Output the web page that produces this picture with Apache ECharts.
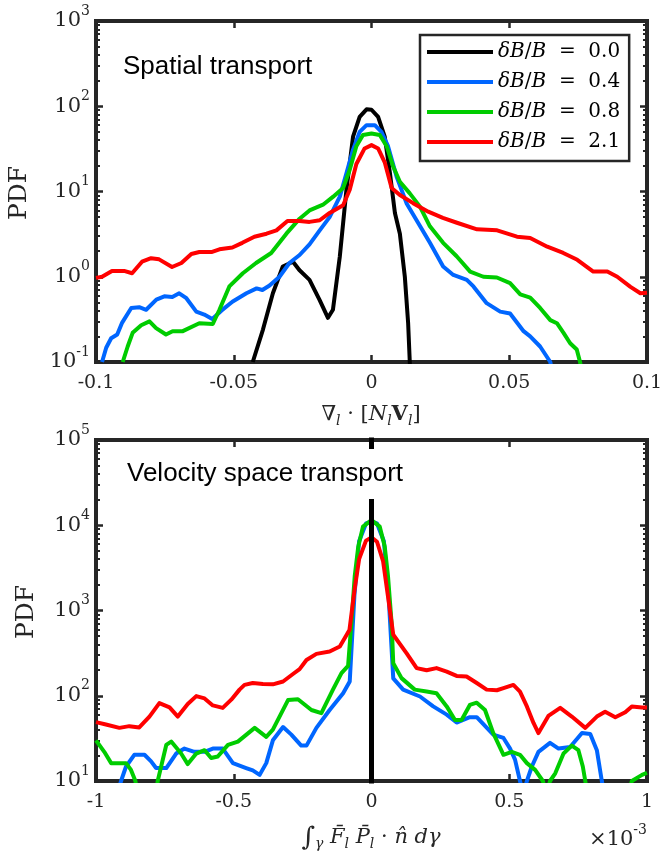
<!DOCTYPE html>
<html>
<head>
<meta charset="utf-8">
<script src="https://cdn.jsdelivr.net/npm/echarts@6/dist/echarts.min.js"></script>
<style>html,body{margin:0;padding:0;background:#fff}#chart{width:661px;height:853px}</style>
</head>
<body>
<div id="chart"></div>
<script>
// ---------------- DATA ----------------
const seriesNames = ['δB/B = 0.0', 'δB/B = 0.4', 'δB/B = 0.8', 'δB/B = 2.1'];

// Spatial transport PDF: [x, PDF]
const spatial00 = [[-0.0431,0.1],[-0.0394,0.24],[-0.0358,0.64],[-0.0322,1.32],[-0.0285,1.5],[-0.0262,1.2],[-0.0225,0.92],[-0.0189,0.54],[-0.0158,0.33],[-0.014,0.41],[-0.0115,1.73],[-0.0091,10.5],[-0.0067,44],[-0.0043,75],[-0.0018,92],[0.0,91],[0.0024,75],[0.0048,44],[0.0067,16.4],[0.0085,5.6],[0.0103,3.2],[0.0121,1.0],[0.0133,0.285],[0.0139,0.1],[0.0142,0.05]];
const spatial04 = [[-0.0978,0.1],[-0.0963,0.147],[-0.0945,0.19],[-0.0923,0.21],[-0.0905,0.29],[-0.0872,0.43],[-0.0843,0.44],[-0.0818,0.41],[-0.0781,0.54],[-0.0752,0.59],[-0.0723,0.58],[-0.0698,0.64],[-0.0672,0.56],[-0.0636,0.39],[-0.0607,0.36],[-0.0578,0.32],[-0.0545,0.4],[-0.0505,0.51],[-0.0454,0.64],[-0.0417,0.73],[-0.0396,0.7],[-0.037,0.79],[-0.0334,1.0],[-0.0298,1.45],[-0.0261,1.8],[-0.0225,2.4],[-0.0188,3.5],[-0.0152,5.0],[-0.0115,8.7],[-0.0091,16.4],[-0.0067,31],[-0.0043,50],[-0.0018,60],[0.0012,60],[0.0036,50],[0.006,34],[0.0091,15],[0.0127,7.3],[0.0169,4.3],[0.0212,2.5],[0.026,1.32],[0.0297,1.05],[0.0346,0.92],[0.037,0.77],[0.0418,0.49],[0.0467,0.39],[0.0503,0.37],[0.0552,0.23],[0.0576,0.2],[0.0612,0.152],[0.0649,0.1],[0.0655,0.08]];
const spatial08 = [[-0.0903,0.1],[-0.0885,0.152],[-0.0867,0.22],[-0.0836,0.27],[-0.0806,0.3],[-0.0782,0.25],[-0.0746,0.21],[-0.0722,0.23],[-0.0685,0.23],[-0.0625,0.285],[-0.0576,0.28],[-0.0552,0.41],[-0.0516,0.77],[-0.0467,1.1],[-0.0419,1.45],[-0.0364,1.9],[-0.0309,3.2],[-0.0261,4.8],[-0.0225,6.0],[-0.0176,7.0],[-0.0139,8.7],[-0.0103,11],[-0.0079,18],[-0.0055,34],[-0.0031,46],[0.0,48],[0.003,46],[0.0055,34],[0.0079,19.5],[0.0103,13],[0.0139,9.5],[0.0176,6.65],[0.0212,3.9],[0.026,2.5],[0.0309,1.74],[0.0358,1.15],[0.0406,1.0],[0.0455,0.98],[0.0503,0.84],[0.054,0.62],[0.0576,0.57],[0.0612,0.43],[0.0649,0.31],[0.0673,0.285],[0.0697,0.22],[0.0721,0.166],[0.0745,0.14],[0.0757,0.1],[0.0762,0.08]];
const spatial21 = [[-0.1,0.97],[-0.0978,1.0],[-0.0942,1.17],[-0.0898,1.17],[-0.0869,1.1],[-0.0833,1.5],[-0.08,1.65],[-0.0771,1.6],[-0.0724,1.3],[-0.069,1.45],[-0.0654,1.85],[-0.0625,1.95],[-0.0581,1.95],[-0.0552,2.1],[-0.0505,2.2],[-0.0469,2.5],[-0.0425,2.95],[-0.0381,3.2],[-0.0345,3.5],[-0.0305,4.5],[-0.0261,4.5],[-0.0225,4.4],[-0.0188,4.6],[-0.0152,5.6],[-0.0103,6.9],[-0.0079,10.5],[-0.0055,21],[-0.0025,32],[0.0,35],[0.0024,32],[0.0048,22],[0.0073,11],[0.0103,9.1],[0.0151,7.3],[0.0206,5.8],[0.0259,4.9],[0.031,4.3],[0.0383,3.6],[0.0456,3.5],[0.0528,2.95],[0.0576,2.85],[0.0638,2.25],[0.0696,1.9],[0.0747,1.58],[0.0805,1.15],[0.0856,1.15],[0.0892,1.0],[0.094,0.76],[0.0976,0.64],[0.1,0.65]];

// Velocity space transport PDF: [x (×1e-3), PDF]
const velocity00 = [[0,1],[0,1e7]];
const velocity04 = [[-0.93,6],[-0.909,10],[-0.891,14.8],[-0.861,20.3],[-0.824,20.3],[-0.8,17],[-0.782,14.2],[-0.745,14.2],[-0.709,21],[-0.679,24],[-0.643,22],[-0.606,22],[-0.576,24],[-0.54,24],[-0.503,16.2],[-0.455,14.2],[-0.431,13.3],[-0.406,11.8],[-0.382,16.2],[-0.358,30],[-0.321,43],[-0.291,35],[-0.255,26],[-0.236,26],[-0.2,42],[-0.152,68],[-0.103,107],[-0.079,147],[-0.062,1500],[-0.045,6500],[-0.02,10500],[0,11000],[0.02,10500],[0.045,6500],[0.062,1500],[0.079,160],[0.115,118],[0.176,98],[0.224,75],[0.273,60],[0.309,48.5],[0.357,56],[0.382,56],[0.442,35],[0.479,32],[0.503,24],[0.521,17.8],[0.539,10],[0.551,7],[0.564,10],[0.582,14.8],[0.606,22],[0.648,28],[0.679,24],[0.721,25],[0.764,36.5],[0.794,35.5],[0.818,23],[0.836,10],[0.85,6]];
const velocity08 = [[-1,30],[-0.97,22],[-0.945,16.2],[-0.891,16.2],[-0.873,13.5],[-0.857,10],[-0.845,6],[-0.785,6],[-0.776,10],[-0.745,26.5],[-0.727,29],[-0.691,21],[-0.667,15.8],[-0.636,21],[-0.606,23],[-0.582,18.6],[-0.558,19.4],[-0.521,26.5],[-0.485,29],[-0.424,42],[-0.382,33],[-0.358,40],[-0.303,89],[-0.267,91],[-0.218,68],[-0.182,62.5],[-0.14,118],[-0.109,184],[-0.085,224],[-0.073,710],[-0.061,2500],[-0.048,5620],[-0.031,9640],[0,11500],[0.03,9640],[0.048,5620],[0.06,2500],[0.073,710],[0.079,240],[0.109,161],[0.157,118],[0.2,112],[0.236,107],[0.273,75],[0.303,52],[0.327,52],[0.357,78],[0.382,83],[0.412,68],[0.442,36.5],[0.479,20.3],[0.509,22],[0.539,20.3],[0.564,16.2],[0.594,13.5],[0.622,10],[0.635,7],[0.648,10],[0.667,12.3],[0.697,21],[0.727,26],[0.751,23],[0.767,14.8],[0.776,10],[0.79,5],[0.92,5],[0.945,10],[0.982,11.8],[1.0,12.5]];
const velocity21 = [[-1,49],[-0.964,46],[-0.915,42],[-0.879,44],[-0.843,42.5],[-0.806,57],[-0.77,82],[-0.733,73],[-0.703,57],[-0.667,80],[-0.636,99],[-0.606,93],[-0.576,77],[-0.54,72],[-0.509,90],[-0.479,118],[-0.461,134],[-0.431,141],[-0.394,137],[-0.358,136],[-0.321,147],[-0.285,180],[-0.261,205],[-0.236,263],[-0.2,310],[-0.152,330],[-0.115,378],[-0.08,590],[-0.062,1700],[-0.045,4000],[-0.02,6600],[0,7200],[0.02,6400],[0.042,3800],[0.06,1455],[0.079,520],[0.127,316],[0.164,211],[0.2,199],[0.236,211],[0.273,192],[0.309,171],[0.345,168],[0.382,141],[0.418,118],[0.455,116],[0.479,123],[0.515,134],[0.539,112],[0.564,75],[0.588,48],[0.606,36.5],[0.642,58],[0.685,72],[0.727,57],[0.776,42],[0.818,57],[0.848,65],[0.885,56],[0.921,64],[0.945,75],[0.982,73],[1.0,73]];

// axis ranges / ticks
const topXRange = [-0.1, 0.1, 0.05];
const topYRange = [0.1, 1000];
const botXRange = [-1, 1, 0.5];
const botYRange = [10, 100000];

// ---------------- STYLE ----------------
const colors = ['#000000', '#0066ff', '#00cc00', '#ff0000'];
const axisCol = '#262626';
const serif = 'DejaVu Serif';

function minorLog(lo, hi) {
  const a = [];
  for (let n = lo; n < hi; n++) for (let k = 2; k <= 9; k++) a.push(n + Math.log10(k));
  return a;
}

const supRich = {
  b: {fontFamily: serif, fontSize: 21, lineHeight: 34, color: axisCol},
  s: {fontFamily: serif, fontSize: 14, lineHeight: 15, verticalAlign: 'top', color: axisCol}
};

function xAxesFor(gridIndex, r) {
  return [
    {type: 'value', gridIndex, position: 'bottom', min: r[0], max: r[1], interval: r[2],
     axisLine: {show: false, onZero: false}, splitLine: {show: false},
     axisTick: {inside: true, length: 7, lineStyle: {color: axisCol, width: 2.5}},
     axisLabel: {margin: 12, fontFamily: serif, fontSize: 19, color: axisCol}},
    {type: 'value', gridIndex, position: 'top', min: r[0], max: r[1], interval: r[2],
     axisLine: {show: false, onZero: false}, splitLine: {show: false},
     axisTick: {inside: true, length: 7, lineStyle: {color: axisCol, width: 2.5}},
     axisLabel: {show: false}}
  ];
}
function yAxesFor(gridIndex, r) {
  const lo = Math.round(Math.log10(r[0])), hi = Math.round(Math.log10(r[1]));
  const minor = minorLog(lo, hi);
  const base = {gridIndex, axisLine: {show: false, onZero: false}, splitLine: {show: false}};
  return [
    Object.assign({}, base, {type: 'log', logBase: 10, position: 'left', min: r[0], max: r[1],
      axisTick: {inside: true, length: 7, lineStyle: {color: axisCol, width: 2.5}},
      axisLabel: {margin: 6, formatter: v => '{b|10}{s|' + Math.round(Math.log10(v)) + '}', rich: supRich}}),
    Object.assign({}, base, {type: 'log', logBase: 10, position: 'right', min: r[0], max: r[1],
      axisTick: {inside: true, length: 7, lineStyle: {color: axisCol, width: 2.5}},
      axisLabel: {show: false}}),
    Object.assign({}, base, {type: 'value', position: 'left', min: lo, max: hi,
      axisTick: {inside: true, length: 4, customValues: minor, lineStyle: {color: axisCol, width: 2}},
      axisLabel: {show: false}}),
    Object.assign({}, base, {type: 'value', position: 'right', min: lo, max: hi,
      axisTick: {inside: true, length: 4, customValues: minor, lineStyle: {color: axisCol, width: 2}},
      axisLabel: {show: false}})
  ];
}

function lineSeries(name, data, color, xi, yi, z, width) {
  return {type: 'line', name, data, xAxisIndex: xi, yAxisIndex: yi, color,
    showSymbol: false, symbol: 'none', clip: true, silent: true, z: z,
    lineStyle: {color, width: width || 4, join: 'round', cap: 'butt'}};
}

const topData = [spatial00, spatial04, spatial08, spatial21];
const botData = [velocity04, velocity08, velocity21];

const series = [];
topData.forEach((d, i) => series.push(lineSeries(seriesNames[i], d, colors[i], 0, 0, 2 + i * 0.01)));
botData.forEach((d, i) => series.push(lineSeries(seriesNames[i + 1], d, colors[i + 1], 2, 4, 2 + i * 0.01)));
series.push(lineSeries(seriesNames[0], velocity00, colors[0], 2, 4, 3, 5));

const legendRich = {
  i: {fontFamily: serif, fontStyle: 'italic', fontSize: 20, color: '#000'},
  n: {fontFamily: serif, fontSize: 20, color: '#000'}
};

const mathRich = {
  m: {fontFamily: serif, fontSize: 21, lineHeight: 26, fill: '#262626'},
  mi: {fontFamily: serif, fontStyle: 'italic', fontSize: 21, lineHeight: 26, fill: '#262626'},
  mb: {fontFamily: serif, fontWeight: 'bold', fontSize: 21, lineHeight: 26, fill: '#262626'},
  big: {fontFamily: serif, fontSize: 26, lineHeight: 26, fill: '#262626'},
  sub: {fontFamily: serif, fontStyle: 'italic', fontSize: 14, lineHeight: 14, verticalAlign: 'bottom', fill: '#262626'}
};

const chart = echarts.init(document.getElementById('chart'), null, {renderer: 'canvas'});
chart.setOption({
  animation: false,
  backgroundColor: '#ffffff',
  grid: [
    {left: 96, top: 21, width: 551, height: 341, show: true, borderColor: axisCol, borderWidth: 4, backgroundColor: 'transparent', outerBoundsMode: 'none', containLabel: false},
    {left: 96, top: 440, width: 551, height: 341, show: true, borderColor: axisCol, borderWidth: 4, backgroundColor: 'transparent', outerBoundsMode: 'none', containLabel: false}
  ],
  xAxis: [...xAxesFor(0, topXRange), ...xAxesFor(1, botXRange)],
  yAxis: [...yAxesFor(0, topYRange), ...yAxesFor(1, botYRange)],
  legend: {
    data: seriesNames, orient: 'vertical', left: 420, top: 35,
    itemWidth: 66, itemHeight: 4, icon: 'rect', itemGap: 8,
    padding: [6, 9, 8, 7], borderColor: axisCol, borderWidth: 2.5, backgroundColor: '#ffffff',
    selectedMode: false,
    textStyle: {fontFamily: serif, fontSize: 20, lineHeight: 22, color: '#000', rich: legendRich},
    formatter: name => '{i|δB}{n|/}{i|B}{n|  =  ' + name.split(' = ')[1] + '}'
  },
  graphic: [
    {type: 'text', x: 123, y: 67, z: 100, style: {text: 'Spatial transport', font: '26px "Liberation Sans"', fill: '#000', verticalAlign: 'middle'}},
    {type: 'text', x: 123, y: 474, z: 100, style: {text: 'Velocity space transport', font: '26px "Liberation Sans"', fill: '#000', verticalAlign: 'middle', backgroundColor: '#ffffff', padding: [14, 4, 10, 4]}},
    {type: 'text', x: 19, y: 193, rotation: Math.PI / 2, z: 100, style: {text: 'PDF', font: '25px "DejaVu Serif"', fill: '#262626', align: 'center', verticalAlign: 'middle'}},
    {type: 'text', x: 26, y: 612, rotation: Math.PI / 2, z: 100, style: {text: 'PDF', font: '25px "DejaVu Serif"', fill: '#262626', align: 'center', verticalAlign: 'middle'}},
    {type: 'text', x: 371, y: 415, z: 100, style: {text: '{m|∇}{sub|l}{m| · [}{mi|N}{sub|l}{mb|V}{sub|l}{m|]}', rich: mathRich, align: 'center', verticalAlign: 'middle'}},
    {type: 'text', x: 371, y: 838, z: 100, style: {text: '{big|∫}{sub|γ}{m| }{mi|F\u0304}{sub|l}{m| }{mi|P\u0304}{sub|l}{m| · }{mi|n\u0302}{m| }{mi|dγ}', rich: mathRich, align: 'center', verticalAlign: 'middle'}},
    {type: 'text', x: 647, y: 840, z: 100, style: {text: '{b|×10}{s|-3}', rich: {
      b: {fontFamily: serif, fontSize: 21, lineHeight: 34, fill: axisCol},
      s: {fontFamily: serif, fontSize: 14, lineHeight: 15, verticalAlign: 'top', fill: axisCol}}, align: 'right', verticalAlign: 'middle'}}
  ],
  series
});
</script>
</body>
</html>
